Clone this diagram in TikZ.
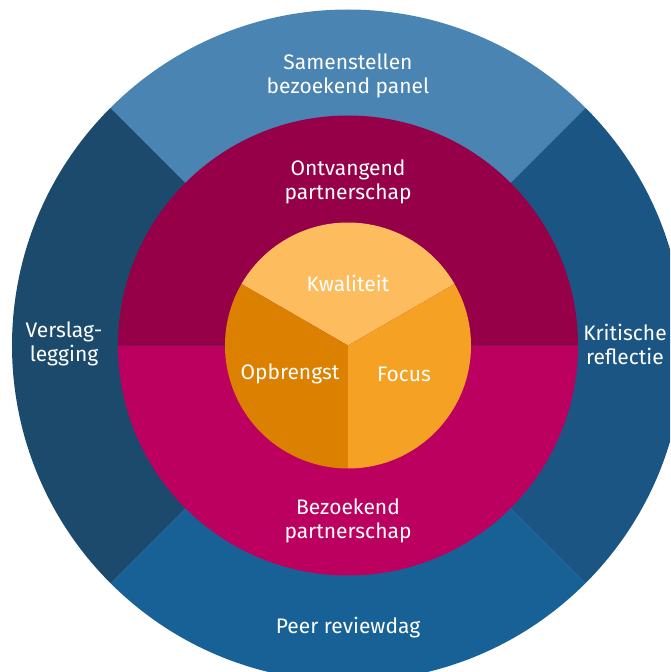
\documentclass[tikz,border=0pt]{standalone}
\usepackage{fontspec}
\setmainfont{Fira Sans}
\usepackage{tikz}

\definecolor{panelblue}{HTML}{4A84B2}
\definecolor{reflectblue}{HTML}{1A5584}
\definecolor{reviewblue}{HTML}{186196}
\definecolor{verslagblue}{HTML}{1B4A6C}
\definecolor{ontvangred}{HTML}{960049}
\definecolor{bezoekred}{HTML}{BB005F}
\definecolor{kwalorange}{HTML}{FDBD5F}
\definecolor{focusorange}{HTML}{F4A124}
\definecolor{opbrengorange}{HTML}{DB8000}

\begin{document}
\begin{tikzpicture}[x=1pt, y=1pt,
    txt/.style={text=white, align=center, font=\fontsize{21}{24}\selectfont}]
    \useasboundingbox (-348,-326.5) rectangle (322,345.5);
    \clip (-348,-326.5) rectangle (322,345.5);

    % Outer ring {top, right, bottom, left}
    \fill [panelblue]   (0,0) -- (45:336)  arc (45:135:336)  -- cycle;
    \fill [reflectblue] (0,0) -- (-45:336) arc (-45:45:336)  -- cycle;
    \fill [reviewblue]  (0,0) -- (225:336) arc (225:315:336) -- cycle;
    \fill [verslagblue] (0,0) -- (135:336) arc (135:225:336) -- cycle;

    % Middle circle {top, bottom}
    \fill [ontvangred] (0:230)   arc (0:180:230)   -- cycle;
    \fill [bezoekred]  (180:230) arc (180:360:230) -- cycle;

    % Inner circle {top, right, left}
    \fill [kwalorange]    (0,0) -- (30:123)  arc (30:150:123)  -- cycle;
    \fill [focusorange]   (0,0) -- (-90:123) arc (-90:30:123)  -- cycle;
    \fill [opbrengorange] (0,0) -- (150:123) arc (150:270:123) -- cycle;

    % Labels
    \node [txt] (panel)     at (0,270)     {Samenstellen\\bezoekend panel};
    \node [txt] (reflectie) at (277,1.5)   {Kritische\\reflectie};
    \node [txt] (review)    at (0,-282.5)  {Peer reviewdag};
    \node [txt] (verslag)   at (-284,1.5)  {Verslag-\\legging};
    \node [txt] (ontvang)   at (0,163.5)   {Ontvangend\\partnerschap};
    \node [txt] (bezoek)    at (0,-175.5)  {Bezoekend\\partnerschap};
    \node [txt] (kwaliteit) at (0,62.5)    {Kwaliteit};
    \node [txt] (focus)     at (56,-28.5)  {Focus};
    \node [txt] (opbrengst) at (-58,-28.5) {Opbrengst};
\end{tikzpicture}
\end{document}
